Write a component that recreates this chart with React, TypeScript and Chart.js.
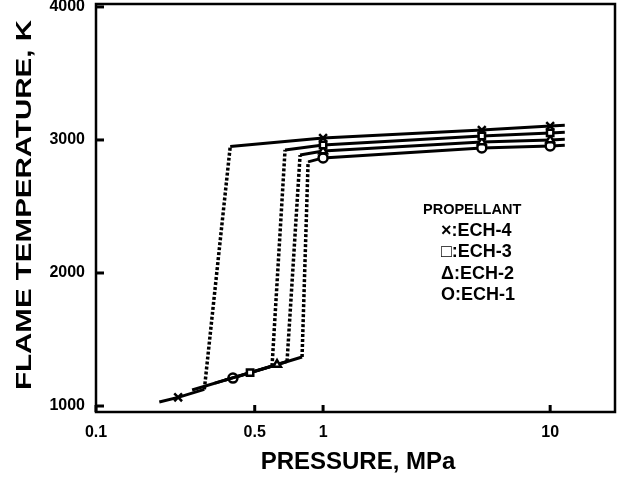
import React, { useEffect, useRef } from "react";
import { Chart, registerables } from "chart.js";

Chart.register(...registerables);

// ---- data (pressure in MPa, flame temperature in K) ----
const pressureECH4 = [0.19, 0.23, 0.3, 0.39, 1, 5, 10, 11.6];
const tempECH4 = [1030, 1065, 1125, 2950, 3015, 3075, 3105, 3110];

const pressureECH3 = [0.265, 0.477, 0.596, 0.68, 1, 5, 10, 11.6];
const tempECH3 = [1120, 1251, 1300, 2925, 2962, 3030, 3053, 3058];

const pressureECH2 = [0.334, 0.627, 0.694, 0.792, 1, 5, 10, 11.6];
const tempECH2 = [1172, 1312, 1335, 2887, 2917, 2985, 3000, 3005];

const pressureECH1 = [0.37, 0.401, 0.808, 0.859, 1, 5, 10, 11.6];
const tempECH1 = [1195, 1210, 1368, 2835, 2865, 2940, 2955, 2960];

const markedIndexes = [1, 4, 5, 6];
const transitionIndex = 2; // segment from this point to the next is the dotted jump

const xTicks = [0.1, 0.5, 1, 10];
const xTickLabels = ["0.1", "0.5", "1", "10"];
const yTicks = [1000, 2000, 3000, 4000];

const legendTitle = "PROPELLANT";
const legendRows = ["×:ECH-4", "□:ECH-3", "Δ:ECH-2", "O:ECH-1"];

const xTitle = "PRESSURE, MPa";
const yTitle = "FLAME TEMPERATURE, K";

const FONT = "'Liberation Sans', Arial, Helvetica, sans-serif";

function makeDataset(label: string, px: number[], ty: number[], style: string) {
  return {
    label,
    data: px.map((p, i) => ({ x: p, y: ty[i] })),
    borderColor: "#000",
    borderWidth: 3,
    borderDash: [] as number[],
    backgroundColor: "#fff",
    pointStyle: style,
    pointBorderColor: "#000",
    pointBackgroundColor: "#fff",
    pointBorderWidth: 2.5,
    pointRadius: (ctx: any) => (markedIndexes.includes(ctx.dataIndex) ? (style === "crossRot" ? 5.5 : 4.5) : 0),
    tension: 0,
    fill: false,
    segment: {
      borderDash: (ctx: any) => (ctx.p0DataIndex === transitionIndex ? [3, 2] : undefined),
      borderWidth: (ctx: any) => (ctx.p0DataIndex === transitionIndex ? 3.5 : undefined),
    },
  };
}

const framePlugin = {
  id: "frameAndText",
  afterDraw(chart: any) {
    const { ctx, chartArea: a, scales } = chart;
    ctx.save();
    // frame
    ctx.strokeStyle = "#000";
    ctx.lineWidth = 2.5;
    ctx.strokeRect(a.left, a.top, a.right - a.left, a.bottom - a.top);
    // inward ticks
    ctx.lineWidth = 3;
    for (const v of yTicks) {
      const y = scales.y.getPixelForValue(v);
      ctx.beginPath();
      ctx.moveTo(a.left, y);
      ctx.lineTo(a.left + 8, y);
      ctx.stroke();
    }
    for (const v of xTicks) {
      const x = scales.x.getPixelForValue(v);
      ctx.beginPath();
      ctx.moveTo(x, a.bottom);
      ctx.lineTo(x, a.bottom - 7);
      ctx.stroke();
    }
    // legend
    ctx.fillStyle = "#000";
    ctx.textBaseline = "middle";
    ctx.textAlign = "left";
    ctx.font = `bold 14.5px ${FONT}`;
    ctx.fillText(legendTitle, a.left + 327, a.top + 206);
    ctx.font = `bold 18px ${FONT}`;
    legendRows.forEach((t, i) => {
      ctx.fillText(t, a.left + 345, a.top + 227 + i * 21.5);
    });
    // x title
    ctx.font = `bold 24px ${FONT}`;
    ctx.textAlign = "center";
    ctx.fillText(xTitle, 358, 462);
    // y title (stretched)
    ctx.font = `bold 22px ${FONT}`;
    ctx.translate(25, 205);
    ctx.rotate(-Math.PI / 2);
    const w = ctx.measureText(yTitle).width;
    ctx.scale(370 / w, 1);
    ctx.fillText(yTitle, 0, 0);
    ctx.restore();
  },
};

export default function App() {
  const ref = useRef<HTMLCanvasElement>(null);
  useEffect(() => {
    if (!ref.current) return;
    const chart = new Chart(ref.current, {
      type: "line",
      data: {
        datasets: [
          makeDataset("ECH-4", pressureECH4, tempECH4, "crossRot"),
          makeDataset("ECH-3", pressureECH3, tempECH3, "rect"),
          makeDataset("ECH-2", pressureECH2, tempECH2, "triangle"),
          makeDataset("ECH-1", pressureECH1, tempECH1, "circle"),
        ],
      },
      options: {
        responsive: false,
        animation: false,
        events: [],
        layout: { padding: { left: 0, top: 4, right: 6, bottom: 0 } },
        plugins: { legend: { display: false }, tooltip: { enabled: false }, title: { display: false } },
        scales: {
          x: {
            type: "logarithmic",
            min: 0.1,
            max: 19.3,
            grid: { display: false, drawTicks: false },
            border: { display: false },
            afterBuildTicks: (s: any) => {
              s.ticks = xTicks.map((v) => ({ value: v }));
            },
            afterFit: (s: any) => {
              s.height = 69;
              s.paddingLeft = 0;
              s.paddingRight = 0;
            },
            ticks: {
              autoSkip: false,
              maxRotation: 0,
              padding: 11,
              color: "#000",
              font: { family: FONT, size: 16, weight: "bold" },
              callback: (v: any) => {
                const i = xTicks.indexOf(Number(v));
                return i >= 0 ? xTickLabels[i] : "";
              },
            },
          },
          y: {
            type: "linear",
            min: 955,
            max: 4022,
            grid: { display: false, drawTicks: false },
            border: { display: false },
            afterBuildTicks: (s: any) => {
              s.ticks = yTicks.map((v) => ({ value: v }));
            },
            afterFit: (s: any) => {
              s.width = 96;
              s.paddingTop = 0;
              s.paddingBottom = 0;
            },
            ticks: {
              padding: 11,
              color: "#000",
              font: { family: FONT, size: 16, weight: "bold" },
              callback: (v: any) => String(v),
            },
          },
        },
      },
      plugins: [framePlugin],
    });
    return () => chart.destroy();
  }, []);
  return (
    <div style={{ position: "fixed", left: 0, top: 0, width: 621, height: 481, background: "#fff" }}>
      <canvas ref={ref} width={621} height={481} style={{ display: "block" }} />
    </div>
  );
}
